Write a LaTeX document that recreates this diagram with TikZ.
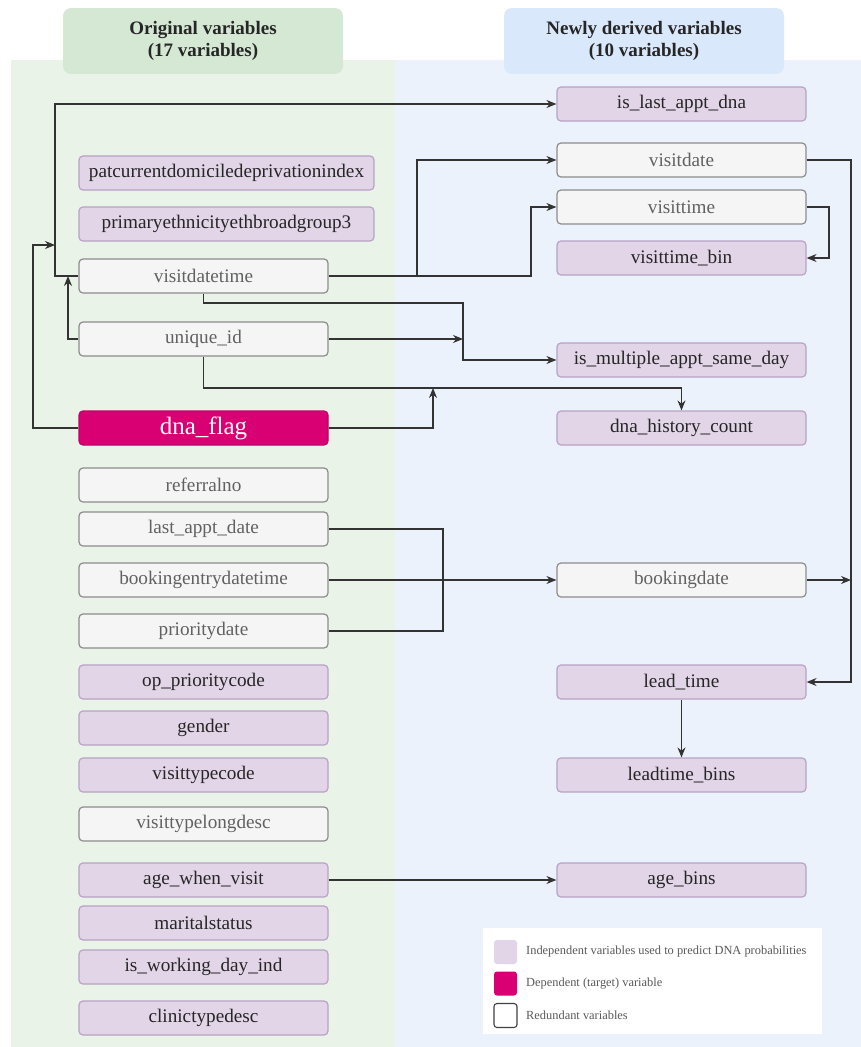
\documentclass[tikz,border=0pt]{standalone}
\usepackage{fontspec}
\setmainfont{Liberation Serif}
\usetikzlibrary{arrows.meta}
\definecolor{gpanel}{HTML}{EAF3E8}
\definecolor{bpanel}{HTML}{EBF2FC}
\definecolor{ghead}{HTML}{D5E8D4}
\definecolor{bhead}{HTML}{DAE8FC}
\definecolor{pfill}{HTML}{E1D5E7}
\definecolor{pline}{HTML}{B8A2C5}
\definecolor{rfill}{HTML}{F5F5F5}
\definecolor{rline}{HTML}{8C8C8C}
\definecolor{dfill}{HTML}{D80073}
\definecolor{dline}{HTML}{C0006A}
\definecolor{wire}{HTML}{333333}
\tikzset{
  basebox/.style={rounded corners=4pt, line width=1.2pt, minimum height=34pt, inner sep=0pt, font=\fontsize{19.2}{21}\selectfont},
  leftbox/.style={basebox, minimum width=249pt},
  widebox/.style={basebox, minimum width=295pt},
  rightbox/.style={basebox, minimum width=249pt},
  indep/.style={fill=pfill, draw=pline, text=black!85},
  redund/.style={fill=rfill, draw=rline, text=black!62},
  target/.style={fill=dfill, draw=dline, text=white, font=\fontsize{25}{27}\selectfont},
  header/.style={rounded corners=8pt, minimum width=280pt, minimum height=66pt, inner sep=0pt, align=center, font=\bfseries\fontsize{19}{22.5}\selectfont, text=black!85},
  wireline/.style={draw=wire, line width=1.25pt},
  arr/.style={wireline, -{Stealth[length=10pt,width=8pt]}},
  legtext/.style={anchor=west, inner sep=0pt, text=black!65, font=\fontsize{12.4}{14}\selectfont},
  swatch/.style={rounded corners=3pt, minimum width=23pt, minimum height=24pt, inner sep=0pt}
}
\begin{document}
\begin{tikzpicture}[x=1pt,y=-1pt]
\useasboundingbox (0,0) rectangle (861,1047);
% panels
\fill[gpanel] (11,60) rectangle (395,1047);
\fill[bpanel] (395,60) rectangle (861,1047);
\node[header, fill=ghead] (hL) at (203,41) {Original variables\\(17 variables)};
\node[header, fill=bhead] (hR) at (644,41) {Newly derived variables\\(10 variables)};

% left column
\node[widebox, indep]  (pcd)  at (226.5,173) {patcurrentdomiciledeprivationindex};
\node[widebox, indep]  (peth) at (226.5,224) {primaryethnicityethbroadgroup3};
\node[leftbox, redund] (vdt)  at (203.5,276) {visitdatetime};
\node[leftbox, redund] (uid)  at (203.5,339) {unique\_id};
\node[leftbox, target] (dna)  at (203.5,428) {dna\_flag};
\node[leftbox, redund] (ref)  at (203.5,485) {referralno};
\node[leftbox, redund] (lad)  at (203.5,529) {last\_appt\_date};
\node[leftbox, redund] (bed)  at (203.5,580) {bookingentrydatetime};
\node[leftbox, redund] (prio) at (203.5,631) {prioritydate};
\node[leftbox, indep]  (opc)  at (203.5,682) {op\_prioritycode};
\node[leftbox, indep]  (gen)  at (203.5,728) {gender};
\node[leftbox, indep]  (vtc)  at (203.5,775) {visittypecode};
\node[leftbox, redund] (vtl)  at (203.5,824) {visittypelongdesc};
\node[leftbox, indep]  (age)  at (203.5,880) {age\_when\_visit};
\node[leftbox, indep]  (mar)  at (203.5,923) {maritalstatus};
\node[leftbox, indep]  (iwd)  at (203.5,967) {is\_working\_day\_ind};
\node[leftbox, indep]  (ctd)  at (203.5,1018) {clinictypedesc};

% right column
\node[rightbox, indep]  (lastdna) at (681.5,104) {is\_last\_appt\_dna};
\node[rightbox, redund] (vdate)   at (681.5,160) {visitdate};
\node[rightbox, redund] (vtime)   at (681.5,207) {visittime};
\node[rightbox, indep]  (vbin)    at (681.5,258) {visittime\_bin};
\node[rightbox, indep]  (multi)   at (681.5,360) {is\_multiple\_appt\_same\_day};
\node[rightbox, indep]  (hist)    at (681.5,428) {dna\_history\_count};
\node[rightbox, redund] (bookd)   at (681.5,580) {bookingdate};
\node[rightbox, indep]  (lead)    at (681.5,682) {lead\_time};
\node[rightbox, indep]  (ltb)     at (681.5,775) {leadtime\_bins};
\node[rightbox, indep]  (ageb)    at (681.5,880) {age\_bins};

% junction coordinates
\coordinate (jA) at (55,276);
\coordinate (jB) at (55,245);
\coordinate (kB) at (33,245);
\coordinate (jC) at (68,276);
\coordinate (jV1) at (417,276);
\coordinate (jV2) at (531,276);
\coordinate (jM) at (463,303);
\coordinate (jD) at (463,339);
\coordinate (jE) at (433,388);
\coordinate (jR) at (851,160);
\coordinate (jS) at (851,580);
\coordinate (jT) at (829,207);
\coordinate (jL) at (443,529);

% connectors
\draw[arr] (vdt.west) -- (jA) |- (lastdna.west);
\draw[arr] (dna.west) -| (kB) -- (jB);
\draw[arr] (uid.west) -| (jC);
\draw[arr] (vdt.east) -- (jV1) |- (vdate.west);
\draw[arr] (jV1) -- (jV2) |- (vtime.west);
\draw[arr] (vdt.south) |- (jM) |- (multi.west);
\draw[arr] (uid.east) -- (jD);
\draw[arr] (uid.south) |- (jE) -| (hist.north);
\draw[arr] (dna.east) -| (jE);
\draw[arr] (vtime.east) -- (jT) |- (vbin.east);
\draw[arr] (vdate.east) -- (jR) |- (lead.east);
\draw[arr] (bookd.east) -- (jS);
\draw[wireline] (lad.east) -- (jL) |- (prio.east);
\draw[arr] (bed.east) -- (bookd.west);
\draw[arr] (lead.south) -- (ltb.north);
\draw[arr] (age.east) -- (ageb.west);

% legend
\node[fill=white, minimum width=339pt, minimum height=106pt, inner sep=0pt] (leg) at (652.5,981) {};
\node[swatch, fill=pfill] (s1) at (505.5,952) {};
\node[swatch, fill=dfill] (s2) at (505.5,983.5) {};
\node[swatch, fill=white, draw=black!75, line width=1.1pt] (s3) at (505.5,1015.5) {};
\node[legtext] (t1) at (526,952) {Independent variables used to predict DNA probabilities};
\node[legtext] (t2) at (526,983.5) {Dependent (target) variable};
\node[legtext] (t3) at (526,1015.5) {Redundant variables};
\end{tikzpicture}
\end{document}
